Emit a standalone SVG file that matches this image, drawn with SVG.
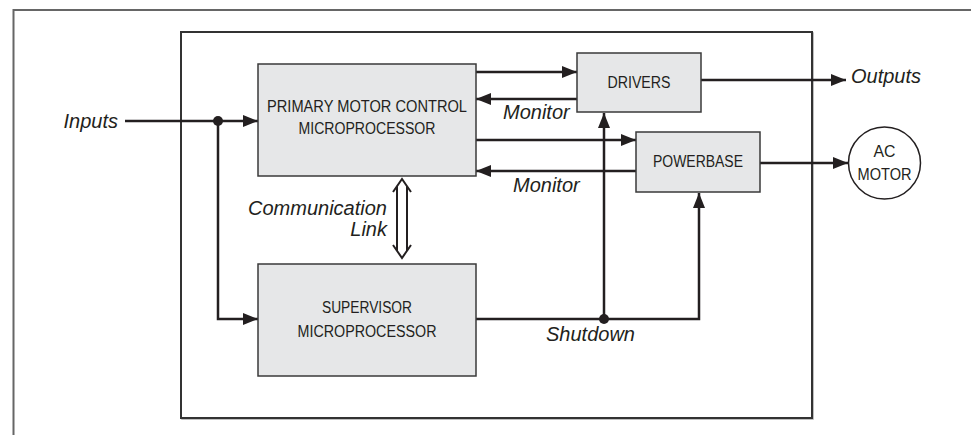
<svg xmlns="http://www.w3.org/2000/svg" width="971" height="435" viewBox="0 0 971 435">
<defs>
<style>
.box{fill:#e6e7e8;stroke:#3a3a3a;stroke-width:1.5}
.bt{font-family:"Liberation Sans",Arial,sans-serif;font-size:16px;fill:#231f20;text-anchor:middle}
.lbl{font-family:"Liberation Sans",Arial,sans-serif;font-size:20px;font-style:italic;fill:#231f20}
.ln{fill:none;stroke:#231f20;stroke-width:2.5}
.dl{fill:none;stroke:#231f20;stroke-width:2}
</style>
<marker id="ah" viewBox="0 0 15 12" refX="15" refY="6" markerWidth="15" markerHeight="12" markerUnits="userSpaceOnUse" orient="auto">
<path d="M0,0 L15,6 L0,12 Z" fill="#231f20"/>
</marker>
</defs>
<rect width="971" height="435" fill="#ffffff"/>
<g id="frame">
<path d="M13.5,435 L13.5,10 L971,10" fill="none" stroke="#666666" stroke-width="2"/>
<rect x="182" y="33" width="631" height="386" fill="none" stroke="#aaaaaa" stroke-width="1.5"/>
<rect x="181" y="32" width="631" height="386" fill="#ffffff" stroke="#333333" stroke-width="2"/>
</g>
<g id="connectors">
<path class="ln" d="M125,121 L258,121" marker-end="url(#ah)"/>
<path class="ln" d="M218,121 L218,319 L258,319" marker-end="url(#ah)"/>
<circle cx="218" cy="121" r="5" fill="#231f20"/>
<path class="ln" d="M476,72 L577,72" marker-end="url(#ah)"/>
<path class="ln" d="M577,99 L476,99" marker-end="url(#ah)"/>
<path class="ln" d="M476,140 L636,140" marker-end="url(#ah)"/>
<path class="ln" d="M636,171 L476,171" marker-end="url(#ah)"/>
<path class="ln" d="M701,80 L846,80" marker-end="url(#ah)"/>
<path class="ln" d="M760,163 L848,163" marker-end="url(#ah)"/>
<path class="ln" d="M476,319 L699,319 L699,193" marker-end="url(#ah)"/>
<path class="ln" d="M604,319 L604,113" marker-end="url(#ah)"/>
<circle cx="604" cy="319" r="5" fill="#231f20"/>
<g id="comm-link">
<path class="dl" d="M393,192 L402,179 L411,192"/>
<path class="dl" d="M393,245 L402,258 L411,245"/>
<path class="dl" d="M397,186 L397,251 M407,186 L407,251"/>
</g>
</g>
<g id="primary">
<rect class="box" x="258" y="64" width="218" height="112"/>
<text class="bt" x="367" y="112" textLength="200" lengthAdjust="spacingAndGlyphs">PRIMARY MOTOR CONTROL</text>
<text class="bt" x="367" y="134" textLength="137" lengthAdjust="spacingAndGlyphs">MICROPROCESSOR</text>
</g>
<g id="supervisor">
<rect class="box" x="258" y="264" width="218" height="112"/>
<text class="bt" x="367" y="313" textLength="90" lengthAdjust="spacingAndGlyphs">SUPERVISOR</text>
<text class="bt" x="367" y="337" textLength="139" lengthAdjust="spacingAndGlyphs">MICROPROCESSOR</text>
</g>
<g id="drivers">
<rect class="box" x="577" y="53" width="124" height="59"/>
<text class="bt" x="639" y="88" textLength="63" lengthAdjust="spacingAndGlyphs">DRIVERS</text>
</g>
<g id="powerbase">
<rect class="box" x="636" y="132" width="124" height="60"/>
<text class="bt" x="698" y="167" textLength="90" lengthAdjust="spacingAndGlyphs">POWERBASE</text>
</g>
<g id="acmotor">
<circle cx="884.5" cy="163" r="36" fill="#ffffff" stroke="#231f20" stroke-width="1.5"/>
<text class="bt" x="884.5" y="157" textLength="22" lengthAdjust="spacingAndGlyphs">AC</text>
<text class="bt" x="884.5" y="180" textLength="54" lengthAdjust="spacingAndGlyphs">MOTOR</text>
</g>
<g id="labels">
<text class="lbl" x="118" y="128" text-anchor="end">Inputs</text>
<text class="lbl" x="851" y="83">Outputs</text>
<text class="lbl" x="503" y="119">Monitor</text>
<text class="lbl" x="513" y="192">Monitor</text>
<text class="lbl" x="387" y="215" text-anchor="end">Communication</text>
<text class="lbl" x="387" y="236" text-anchor="end">Link</text>
<text class="lbl" x="546" y="341">Shutdown</text>
</g>
</svg>
